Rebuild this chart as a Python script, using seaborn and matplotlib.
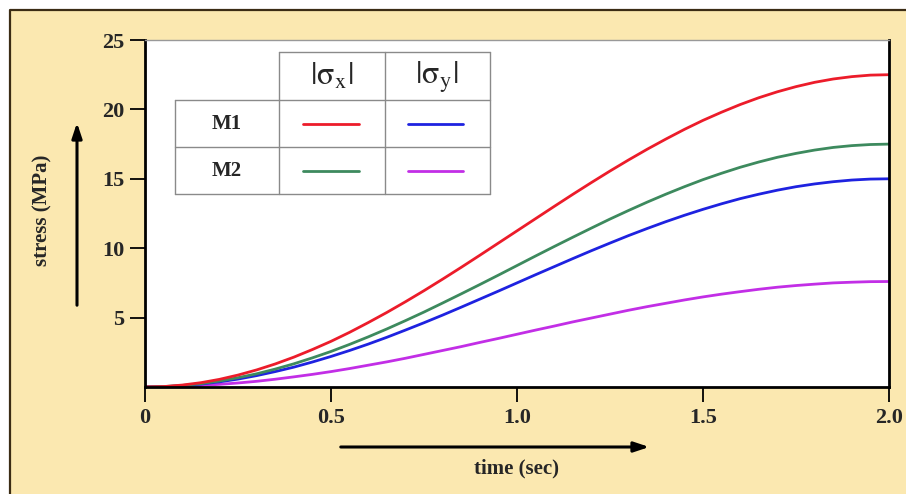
import numpy as np
import pandas as pd
import matplotlib
matplotlib.use("Agg")
import matplotlib.pyplot as plt
from matplotlib.patches import Rectangle
from matplotlib.lines import Line2D
import seaborn as sns

# values, every 0.05 s
time = np.round(np.arange(0, 2.001, 0.05), 2)
m1_sx = [0, 0.03, 0.14, 0.31, 0.55, 0.86, 1.23, 1.66, 2.15, 2.70, 3.29, 3.94, 4.64, 5.37,
         6.14, 6.94, 7.77, 8.62, 9.49, 10.37, 11.25, 12.13, 13.01, 13.88, 14.73, 15.56,
         16.36, 17.13, 17.86, 18.56, 19.21, 19.80, 20.35, 20.84, 21.27, 21.64, 21.95,
         22.19, 22.36, 22.47, 22.5]
m2_sx = [0, 0.03, 0.11, 0.24, 0.43, 0.67, 0.95, 1.29, 1.67, 2.10, 2.56, 3.07, 3.61, 4.18,
         4.78, 5.40, 6.05, 6.71, 7.38, 8.06, 8.75, 9.44, 10.12, 10.79, 11.45, 12.10,
         12.72, 13.32, 13.89, 14.43, 14.94, 15.40, 15.83, 16.21, 16.55, 16.83, 17.07,
         17.26, 17.39, 17.47, 17.5]
m1_sy = [0, 0.02, 0.09, 0.21, 0.37, 0.57, 0.82, 1.11, 1.43, 1.80, 2.20, 2.63, 3.09, 3.58,
         4.10, 4.63, 5.18, 5.75, 6.33, 6.91, 7.5, 8.09, 8.67, 9.25, 9.82, 10.37, 10.91,
         11.42, 11.91, 12.37, 12.80, 13.20, 13.57, 13.89, 14.18, 14.43, 14.63, 14.79,
         14.91, 14.98, 15.0]
m2_sy = [0, 0.01, 0.05, 0.11, 0.19, 0.29, 0.41, 0.56, 0.73, 0.91, 1.11, 1.33, 1.57, 1.81,
         2.07, 2.35, 2.63, 2.91, 3.21, 3.50, 3.8, 4.10, 4.39, 4.69, 4.97, 5.25, 5.53,
         5.79, 6.03, 6.27, 6.49, 6.69, 6.87, 7.04, 7.19, 7.31, 7.41, 7.50, 7.55, 7.59, 7.6]

x_ticks = [0, 0.5, 1.0, 1.5, 2.0]
x_labels = ["0", "0.5", "1.0", "1.5", "2.0"]
y_ticks = [5, 10, 15, 20, 25]

c_red = "#EC1C2A"
c_green = "#3D8A5E"
c_blue = "#1E22E0"
c_purple = "#C22EE6"
bg = "#FBE8B0"

sns.set_style("white")
plt.rcParams["font.family"] = ["Liberation Serif", "DejaVu Serif"]
plt.rcParams["mathtext.fontset"] = "stix"

W, H = 906, 494
fig = plt.figure(figsize=(W / 100, H / 100), dpi=100)
fig.patch.set_facecolor("white")

def fx(px):
    return px / W

def fy(py):
    return 1 - py / H

# yellow background with a dark border on the left and top only
fig.add_artist(Rectangle((fx(10), -0.05), 1.1, fy(10) + 0.05, transform=fig.transFigure,
                         facecolor=bg, edgecolor="none", zorder=0))
fig.add_artist(Line2D([fx(10), fx(10), 1.05], [-0.05, fy(10), fy(10)], color="#3b2c14",
                      lw=1.6, transform=fig.transFigure, zorder=1))

ax = fig.add_axes([fx(145), fy(387), fx(889) - fx(145), fy(40) - fy(387)])
ax.set_facecolor("white")

df = pd.DataFrame({"time": time, "m1_sx": m1_sx, "m2_sx": m2_sx,
                   "m1_sy": m1_sy, "m2_sy": m2_sy})
for col, c in [("m2_sy", c_purple), ("m1_sy", c_blue), ("m2_sx", c_green), ("m1_sx", c_red)]:
    sns.lineplot(data=df, x="time", y=col, color=c, lw=2, ax=ax)

ax.set_xlim(0, 2.0)
ax.set_ylim(0, 25)
ax.set_xticks(x_ticks)
ax.set_xticklabels(x_labels)
ax.set_yticks(y_ticks)
ax.set_xlabel("")
ax.set_ylabel("")
ax.tick_params(axis="both", direction="out", length=11, width=1.3, color="black",
               labelsize=16, bottom=True, left=True, pad=4)
for lab in ax.get_xticklabels() + ax.get_yticklabels():
    lab.set_fontweight("bold")
for s in ["left", "bottom", "right"]:
    ax.spines[s].set_color("black")
    ax.spines[s].set_linewidth(2)
ax.spines["top"].set_color("#999999")
ax.spines["top"].set_linewidth(1)

# axis labels with arrows
fig.text(fx(42), fy(210), "stress (MPa)", rotation=90, ha="center", va="center",
         fontsize=15, fontweight="bold")
fig.text(fx(517), fy(468), "time (sec)", ha="center", va="center",
         fontsize=15, fontweight="bold")
arrow = dict(arrowstyle="-|>,head_length=0.9,head_width=0.3", color="black", lw=2.2)
ax.annotate("", xy=(fx(77), fy(120)), xytext=(fx(77), fy(308)),
            xycoords="figure fraction", textcoords="figure fraction", arrowprops=arrow)
ax.annotate("", xy=(fx(652), fy(447)), xytext=(fx(338), fy(447)),
            xycoords="figure fraction", textcoords="figure fraction", arrowprops=arrow)

# legend table
grid = "#8a8a8a"
h_lines = [(52, 279, 490), (100, 175, 490), (147, 175, 490), (194, 175, 490)]
v_lines = [(175, 100, 194), (279, 52, 194), (385, 52, 194), (490, 52, 194)]
for y, x0, x1 in h_lines:
    fig.add_artist(Line2D([fx(x0), fx(x1)], [fy(y), fy(y)], color=grid, lw=1,
                          transform=fig.transFigure))
for x, y0, y1 in v_lines:
    fig.add_artist(Line2D([fx(x), fx(x)], [fy(y0), fy(y1)], color=grid, lw=1,
                          transform=fig.transFigure))

fig.text(fx(332), fy(77), r"$|\mathrm{\sigma}_{\mathrm{x}}|$", ha="center", va="center",
         fontsize=23)
fig.text(fx(437), fy(77), r"$|\mathrm{\sigma}_{\mathrm{y}}|$", ha="center", va="center",
         fontsize=23)
fig.text(fx(227), fy(124), "M1", ha="center", va="center", fontsize=15, fontweight="bold")
fig.text(fx(227), fy(171), "M2", ha="center", va="center", fontsize=15, fontweight="bold")
for x0, x1, y, c in [(303, 359, 124, c_red), (408, 463, 124, c_blue),
                     (303, 359, 171, c_green), (408, 463, 171, c_purple)]:
    fig.add_artist(Line2D([fx(x0), fx(x1)], [fy(y), fy(y)], color=c, lw=2,
                          transform=fig.transFigure))

fig.savefig("out.png", dpi=100)
